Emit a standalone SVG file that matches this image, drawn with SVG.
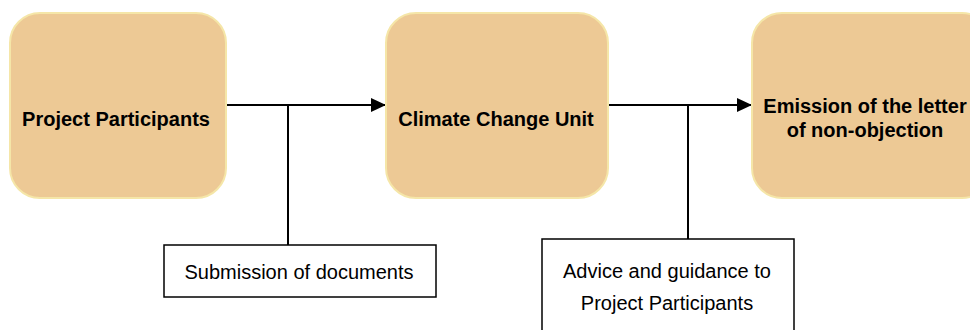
<svg xmlns="http://www.w3.org/2000/svg" width="970" height="330" viewBox="0 0 970 330">
  <style>
    .stage { fill: #edc995; stroke: #f5e6a8; stroke-width: 2; }
    .stage-label { font-family: "Liberation Sans", Arial, sans-serif; font-size: 20px; font-weight: bold; fill: #000; text-anchor: middle; }
    .note { fill: #fff; stroke: #000; stroke-width: 1.5; }
    .note-label { font-family: "Liberation Sans", Arial, sans-serif; font-size: 20px; fill: #000; text-anchor: middle; }
    .flow { fill: none; stroke: #000; stroke-width: 2; }
  </style>
  <defs>
    <marker id="arrow" markerUnits="userSpaceOnUse" markerWidth="16" markerHeight="16" refX="15" refY="8" orient="auto">
      <path d="M0,1 L15,8 L0,15 Z" fill="#000"/>
    </marker>
  </defs>
  <rect width="970" height="330" fill="#fff"/>

  <g id="connectors">
    <line class="flow" x1="226" y1="105" x2="386" y2="105" marker-end="url(#arrow)"/>
    <line class="flow" x1="288" y1="105" x2="288" y2="245"/>
    <line class="flow" x1="608" y1="105" x2="752" y2="105" marker-end="url(#arrow)"/>
    <line class="flow" x1="688" y1="105" x2="688" y2="239"/>
  </g>

  <g id="project-participants">
    <rect class="stage" x="10" y="13" width="216" height="185" rx="30" ry="30"/>
    <text class="stage-label" x="116" y="126">Project Participants</text>
  </g>

  <g id="climate-change-unit">
    <rect class="stage" x="386" y="13" width="222" height="185" rx="30" ry="30"/>
    <text class="stage-label" x="496" y="126">Climate Change Unit</text>
  </g>

  <g id="letter-of-non-objection">
    <rect class="stage" x="752" y="13" width="240" height="185" rx="30" ry="30"/>
    <text class="stage-label" x="865" y="113">Emission of the letter</text>
    <text class="stage-label" x="865" y="137">of non-objection</text>
  </g>

  <g id="submission-of-documents">
    <rect class="note" x="164" y="245" width="272" height="52"/>
    <text class="note-label" x="299" y="279">Submission of documents</text>
  </g>

  <g id="advice-and-guidance">
    <rect class="note" x="542" y="239" width="252" height="100"/>
    <text class="note-label" x="667" y="278">Advice and guidance to</text>
    <text class="note-label" x="667" y="310">Project Participants</text>
  </g>
</svg>
